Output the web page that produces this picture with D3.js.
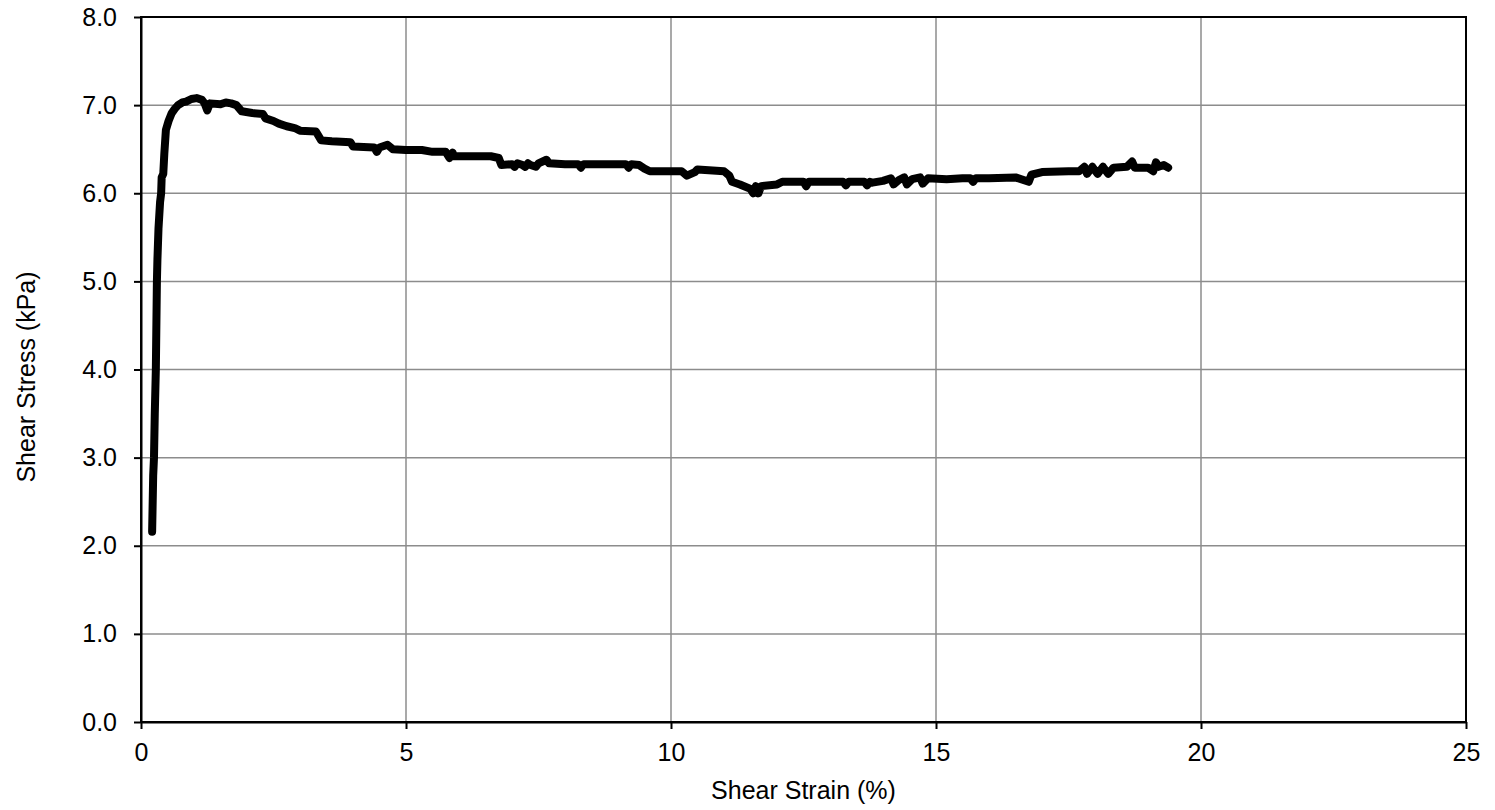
<!DOCTYPE html>
<html><head><meta charset="utf-8">
<script src="https://cdn.jsdelivr.net/npm/d3@7"></script>
<style>body{margin:0;background:#fff}svg{display:block}text{font-family:"Liberation Sans",Arial,sans-serif}</style>
</head><body><svg id="c" width="1495" height="810"></svg>
<script>
const strain = [0.21,0.23,0.245,0.26,0.28,0.29,0.30,0.31,0.33,0.36,0.38,0.39,0.42,0.44,0.47,0.52,0.58,0.64,0.70,0.78,0.85,0.95,1.05,1.15,1.2,1.25,1.3,1.5,1.6,1.7,1.8,1.9,2.1,2.3,2.35,2.5,2.6,2.75,2.9,3.0,3.3,3.4,3.6,3.95,4.0,4.4,4.45,4.5,4.65,4.75,5.0,5.3,5.5,5.75,5.82,5.88,5.9,6.3,6.6,6.75,6.8,7.0,7.05,7.1,7.2,7.25,7.3,7.35,7.45,7.5,7.65,7.7,8.0,8.25,8.3,8.35,8.5,9.0,9.15,9.2,9.25,9.4,9.5,9.6,10.0,10.2,10.3,10.45,10.5,11.0,11.1,11.15,11.3,11.5,11.55,11.6,11.65,11.7,12.0,12.1,12.5,12.55,12.6,13.0,13.25,13.3,13.35,13.5,13.65,13.7,13.75,13.8,14.0,14.15,14.2,14.3,14.4,14.45,14.55,14.7,14.75,14.85,15.2,15.5,15.65,15.7,15.75,16.0,16.5,16.75,16.8,17.0,17.5,17.7,17.8,17.85,17.95,18.05,18.15,18.25,18.35,18.6,18.7,18.75,19.0,19.1,19.15,19.2,19.3,19.38];
const stress = [2.16,2.8,3.0,3.5,4.0,4.5,5.0,5.25,5.6,5.9,6.0,6.18,6.22,6.45,6.72,6.82,6.91,6.96,7.0,7.03,7.04,7.07,7.08,7.06,7.02,6.94,7.02,7.01,7.03,7.02,7.0,6.93,6.91,6.9,6.85,6.82,6.79,6.76,6.74,6.71,6.70,6.60,6.59,6.58,6.53,6.52,6.47,6.52,6.55,6.50,6.49,6.49,6.47,6.47,6.40,6.46,6.42,6.42,6.42,6.40,6.32,6.33,6.30,6.34,6.32,6.30,6.34,6.32,6.30,6.34,6.38,6.34,6.33,6.33,6.29,6.33,6.33,6.33,6.33,6.29,6.33,6.32,6.28,6.25,6.25,6.25,6.20,6.24,6.27,6.25,6.2,6.13,6.10,6.05,6.0,6.08,6.0,6.08,6.1,6.13,6.13,6.08,6.13,6.13,6.13,6.09,6.13,6.13,6.13,6.09,6.13,6.12,6.14,6.17,6.10,6.15,6.18,6.10,6.16,6.18,6.11,6.17,6.16,6.17,6.17,6.13,6.17,6.17,6.18,6.13,6.21,6.24,6.25,6.25,6.30,6.22,6.30,6.22,6.30,6.22,6.29,6.30,6.36,6.29,6.29,6.25,6.35,6.3,6.32,6.29];
const xTicks = [0,5,10,15,20,25];
const yTicks = [0,1,2,3,4,5,6,7,8];

const svg = d3.select("#c");
const L=141, R=1466, T=17, B=722;
const FS = 25;
const x = d3.scaleLinear().domain([0,25]).range([L,R]);
const y = d3.scaleLinear().domain([0,8]).range([B,T]);

// gridlines
svg.append("g").selectAll("line").data(xTicks.slice(1,-1)).join("line")
  .attr("x1",d=>x(d)).attr("x2",d=>x(d)).attr("y1",T).attr("y2",B)
  .attr("stroke","#8c8c8c").attr("stroke-width",1.5);
svg.append("g").selectAll("line").data(yTicks.slice(1,-1)).join("line")
  .attr("x1",L).attr("x2",R).attr("y1",d=>y(d)).attr("y2",d=>y(d))
  .attr("stroke","#8c8c8c").attr("stroke-width",1.5);

// frame
svg.append("rect").attr("x",L).attr("y",T).attr("width",R-L).attr("height",B-T)
  .attr("fill","none").attr("stroke","#000").attr("stroke-width",2);

// axes
const xa = svg.append("g").attr("transform",`translate(0,${B})`)
  .call(d3.axisBottom(x).tickValues(xTicks).tickFormat(d3.format("d")).tickSize(7).tickSizeOuter(0));
const ya = svg.append("g").attr("transform",`translate(${L},0)`)
  .call(d3.axisLeft(y).tickValues(yTicks).tickFormat(d3.format(".1f")).tickSize(7).tickSizeOuter(0));
[xa,ya].forEach(a=>{
  a.select(".domain").attr("stroke","#000").attr("stroke-width",2);
  a.selectAll(".tick line").attr("stroke","#000").attr("stroke-width",2);
  a.selectAll(".tick text").attr("font-size",FS).attr("fill","#000")
   .attr("font-family","'Liberation Sans',Arial,sans-serif");
});
xa.selectAll(".tick text").attr("dy","0.71em").attr("y",21);
ya.selectAll(".tick text").attr("x",-24);

// line
const pts = strain.map((s,i)=>[s,stress[i]]);
svg.append("path").datum(pts)
  .attr("d",d3.line().x(d=>x(d[0])).y(d=>y(d[1])))
  .attr("fill","none").attr("stroke","#000").attr("stroke-width",8)
  .attr("stroke-linejoin","round").attr("stroke-linecap","round");

// titles
svg.append("text").attr("x",(L+R)/2).attr("y",799).attr("text-anchor","middle")
  .attr("font-size",FS).text("Shear Strain (%)");
svg.append("text").attr("transform",`translate(35,377) rotate(-90)`).attr("text-anchor","middle")
  .attr("font-size",FS).text("Shear Stress (kPa)");
</script></body></html>
